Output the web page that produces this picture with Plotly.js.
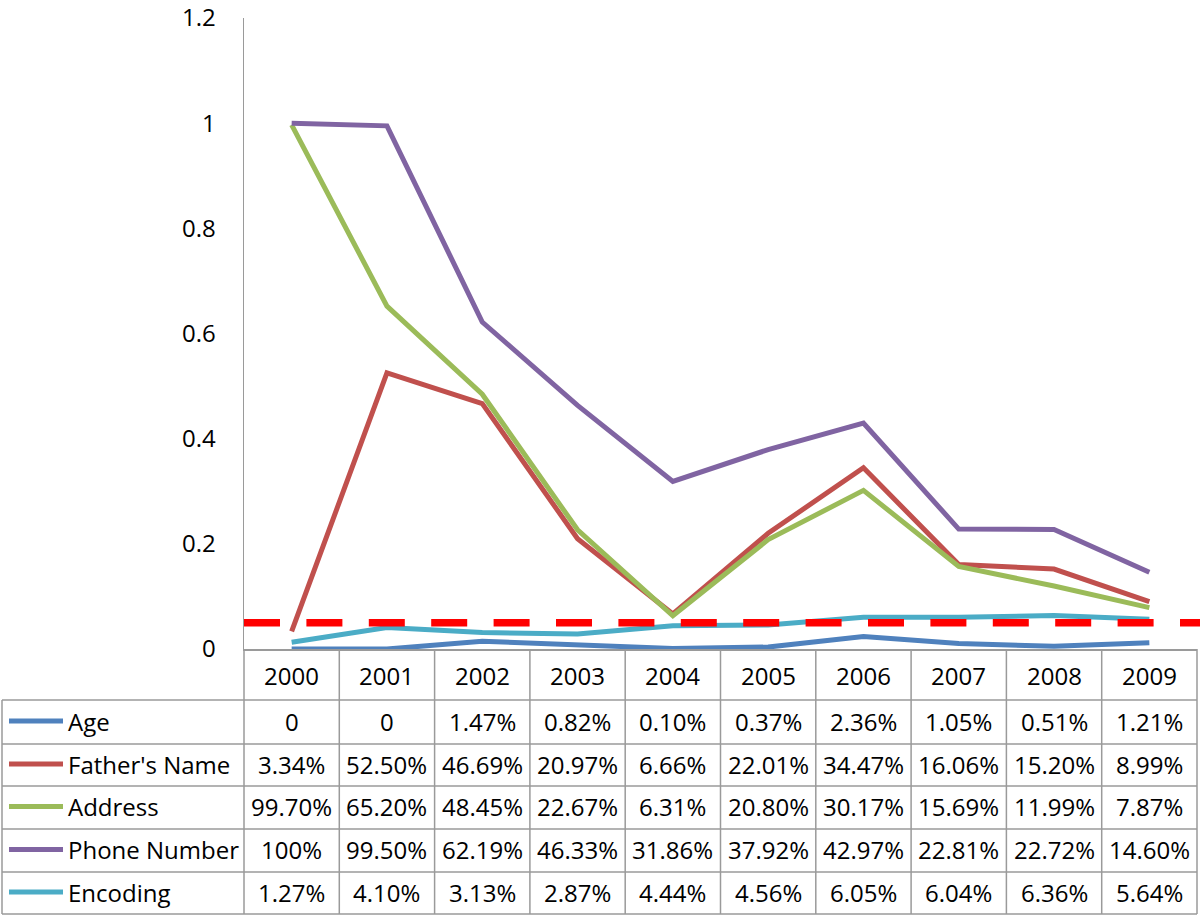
<!DOCTYPE html>
<html><head><meta charset="utf-8">
<script src="https://cdn.plot.ly/plotly-3.0.1.min.js"></script>
<style>html,body{margin:0;padding:0;background:#fff}#chart{width:1200px;height:916px}</style>
</head><body><div id="chart"></div>
<script>
const years = ['2000','2001','2002','2003','2004','2005','2006','2007','2008','2009'];
const seriesNames = ['Age', "Father's Name", 'Address', 'Phone Number', 'Encoding'];
const seriesColors = ['#4F81BD', '#C0504D', '#9BBB59', '#8064A2', '#4BACC6'];
const age = [0, 0, 0.0147, 0.0082, 0.0010, 0.0037, 0.0236, 0.0105, 0.0051, 0.0121];
const fathersName = [0.0334, 0.5250, 0.4669, 0.2097, 0.0666, 0.2201, 0.3447, 0.1606, 0.1520, 0.0899];
const address = [0.9970, 0.6520, 0.4845, 0.2267, 0.0631, 0.2080, 0.3017, 0.1569, 0.1199, 0.0787];
const phoneNumber = [1.0000, 0.9950, 0.6219, 0.4633, 0.3186, 0.3792, 0.4297, 0.2281, 0.2272, 0.1460];
const encoding = [0.0127, 0.0410, 0.0313, 0.0287, 0.0444, 0.0456, 0.0605, 0.0604, 0.0636, 0.0564];
const threshold = 0.05;
const yTicks = [0, 0.2, 0.4, 0.6, 0.8, 1, 1.2];

const allSeries = [age, fathersName, address, phoneNumber, encoding];

// geometry (pixels)
const W = 1200, H = 916;
const plotL = 244, plotR = 1197, plotT = 18, plotB = 649;
const rowEdges = [649, 700, 744, 786, 829, 872, 914];
const tableLeft = 2;
const gridColor = '#9a9a9a';
const xp = px => (px - plotL) / (plotR - plotL);
const yp = py => (plotB - py) / (plotB - plotT);

function fmt(v) {
  if (v === 0) return '0';
  if (v === 1) return '100%';
  return (Math.round(v * 10000) / 100).toFixed(2) + '%';
}

const traces = allSeries.map((vals, i) => ({
  type: 'scatter', mode: 'lines', x: years, y: vals, name: seriesNames[i],
  line: {color: seriesColors[i], width: 5}, hoverinfo: 'skip'
}));

const shapes = [];
const annotations = [];
const colW = (plotR - plotL) / years.length;
const colCenter = c => xp(plotL + (c + 0.5) * colW);

// threshold dashed line
shapes.push({type: 'line', xref: 'paper', yref: 'y', x0: 0, x1: xp(1200), y0: threshold, y1: threshold,
  line: {color: '#FF0000', width: 7.5, dash: '36px,26.4px'}});

// horizontal table lines
for (let r = 1; r < rowEdges.length; r++) {
  shapes.push({type: 'line', xref: 'paper', yref: 'paper', x0: xp(tableLeft), x1: xp(plotR),
    y0: yp(rowEdges[r]), y1: yp(rowEdges[r]), line: {color: gridColor, width: 1.5}});
}
// vertical table lines
for (let c = 1; c <= years.length; c++) {
  const x = plotL + c * colW;
  shapes.push({type: 'line', xref: 'paper', yref: 'paper', x0: xp(x), x1: xp(x),
    y0: yp(plotB), y1: yp(rowEdges[rowEdges.length - 1]), line: {color: gridColor, width: 1.5}});
}
shapes.push({type: 'line', xref: 'paper', yref: 'paper', x0: 0, x1: 0,
  y0: yp(plotB), y1: yp(rowEdges[rowEdges.length - 1]), line: {color: gridColor, width: 1.5}});
shapes.push({type: 'line', xref: 'paper', yref: 'paper', x0: xp(tableLeft), x1: xp(tableLeft),
  y0: yp(rowEdges[1]), y1: yp(rowEdges[rowEdges.length - 1]), line: {color: gridColor, width: 1.5}});

// header years
years.forEach((yr, c) => {
  annotations.push({xref: 'paper', yref: 'paper', x: colCenter(c), y: yp((rowEdges[0] + rowEdges[1]) / 2 + 1),
    text: yr, showarrow: false, xanchor: 'center', yanchor: 'middle'});
});

// rows
allSeries.forEach((vals, i) => {
  const cy = (rowEdges[i + 1] + rowEdges[i + 2]) / 2;
  shapes.push({type: 'line', xref: 'paper', yref: 'paper', x0: xp(9), x1: xp(63),
    y0: yp(cy - 1), y1: yp(cy - 1), line: {color: seriesColors[i], width: 5}});
  annotations.push({xref: 'paper', yref: 'paper', x: xp(66), y: yp(cy - 1),
    text: seriesNames[i], showarrow: false, xanchor: 'left', yanchor: 'middle'});
  vals.forEach((v, c) => {
    annotations.push({xref: 'paper', yref: 'paper', x: colCenter(c), y: yp(cy - 1),
      text: fmt(v), showarrow: false, xanchor: 'center', yanchor: 'middle'});
  });
});

const layout = {
  width: W, height: H,
  margin: {l: plotL, r: W - plotR, t: plotT, b: H - plotB, pad: 0},
  paper_bgcolor: '#fff', plot_bgcolor: '#fff',
  font: {family: 'Open Sans, Liberation Sans, sans-serif', size: 24, color: '#000'},
  showlegend: false,
  xaxis: {type: 'category', range: [-0.5, years.length - 0.5], showgrid: false, zeroline: false,
    showline: true, linecolor: gridColor, linewidth: 1.5, showticklabels: false, ticks: '', fixedrange: true},
  yaxis: {range: [0, 1.2001], tickvals: yTicks, ticktext: yTicks.map(String), showgrid: false, zeroline: false,
    showline: true, linecolor: gridColor, linewidth: 1.5, ticks: 'outside', ticklen: 22,
    tickcolor: 'rgba(0,0,0,0)', ticklabeloverflow: 'allow', fixedrange: true},
  shapes: shapes,
  annotations: annotations
};

Plotly.newPlot('chart', traces, layout, {displayModeBar: false, staticPlot: true});
</script>
</body></html>
